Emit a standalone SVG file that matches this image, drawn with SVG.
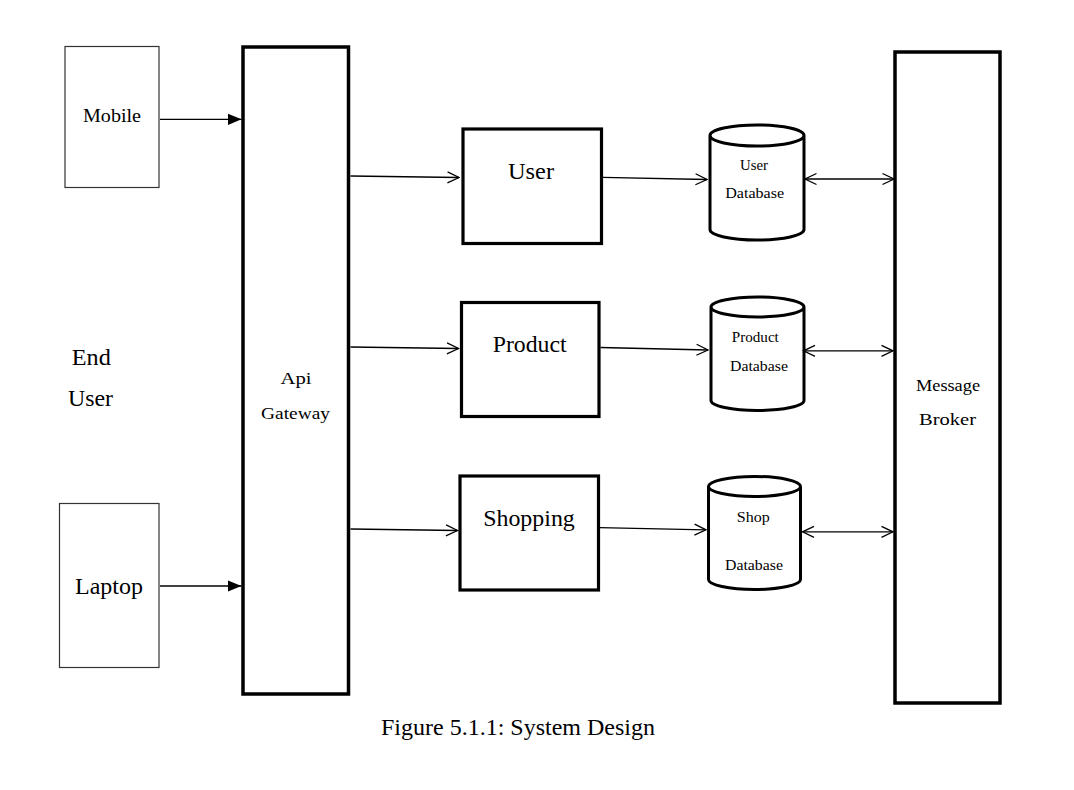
<svg xmlns="http://www.w3.org/2000/svg" width="1074" height="790" viewBox="0 0 1074 790">
  <defs>
    <marker id="tri" markerUnits="userSpaceOnUse" markerWidth="14" markerHeight="12" viewBox="0 0 12 10" refX="12" refY="5" orient="auto">
      <path d="M0,0 L12,5 L0,10 Z" fill="#000"/>
    </marker>
    <marker id="chev" markerUnits="userSpaceOnUse" markerWidth="14" markerHeight="14" viewBox="-1 -1 14 14" refX="11.5" refY="6" orient="auto-start-reverse">
      <path d="M0,0.5 L11.5,6 L0,11.5" fill="none" stroke="#000" stroke-width="1.3"/>
    </marker>
  </defs>
  <style>
    text { font-family: "Liberation Serif", "Times New Roman", serif; fill: #000; text-anchor: middle; }
    .thin { fill: #fff; stroke: #333; stroke-width: 1.2; }
    .thick { fill: #fff; stroke: #000; stroke-width: 3.5; }
    .svc { fill: #fff; stroke: #000; stroke-width: 3.2; }
    .db { fill: #fff; stroke: #000; stroke-width: 3; }
    .conn { fill: none; stroke: #000; stroke-width: 1.3; }
    .solid { marker-end: url(#tri); }
    .open { marker-end: url(#chev); }
    .both { marker-start: url(#chev); marker-end: url(#chev); }
    .big { font-size: 23.5px; }
    .mid { font-size: 17px; }
    .small { font-size: 15.5px; }
  </style>
  <rect width="1074" height="790" fill="#fff"/>

  <g id="mobile">
    <rect class="thin" x="65" y="46.5" width="94" height="141"/>
    <text x="112" y="121.5" style="font-size:19px" textLength="58" lengthAdjust="spacingAndGlyphs">Mobile</text>
  </g>
  <g id="laptop">
    <rect class="thin" x="59.5" y="503.5" width="99.5" height="164"/>
    <text x="109" y="594" style="font-size:24px" textLength="68" lengthAdjust="spacingAndGlyphs">Laptop</text>
  </g>
  <g id="end-user">
    <text x="91.3" y="365" style="font-size:23px" textLength="39" lengthAdjust="spacingAndGlyphs">End</text>
    <text x="90.5" y="406" style="font-size:23px" textLength="45" lengthAdjust="spacingAndGlyphs">User</text>
  </g>
  <g id="api-gateway">
    <rect class="thick" x="243" y="47" width="105.5" height="647"/>
    <text class="mid" x="296" y="384" textLength="31" lengthAdjust="spacingAndGlyphs">Api</text>
    <text class="mid" x="295.5" y="419" textLength="69" lengthAdjust="spacingAndGlyphs">Gateway</text>
  </g>
  <g id="user-service">
    <rect class="svc" x="463" y="129" width="138.5" height="114.5"/>
    <text class="big" x="531" y="178.5" textLength="46" lengthAdjust="spacingAndGlyphs">User</text>
  </g>
  <g id="product-service">
    <rect class="svc" x="461.5" y="302.5" width="137.5" height="114"/>
    <text class="big" x="529.7" y="351.7" textLength="74" lengthAdjust="spacingAndGlyphs">Product</text>
  </g>
  <g id="shopping-service">
    <rect class="svc" x="460" y="476" width="138.5" height="114"/>
    <text class="big" x="529" y="526" textLength="91.7" lengthAdjust="spacingAndGlyphs">Shopping</text>
  </g>

  <g id="user-db">
    <path class="db" d="M710,135.5 A47,10.5 0 0 1 804,135.5 A47,10.5 0 0 1 710,135.5 Z M710,135.5 L710,229.5 A47,10.5 0 0 0 804,229.5 L804,135.5"/>
    <text class="small" x="754" y="170" textLength="28" lengthAdjust="spacingAndGlyphs">User</text>
    <text class="small" x="754.7" y="198.3" textLength="59" lengthAdjust="spacingAndGlyphs">Database</text>
  </g>
  <g id="product-db">
    <path class="db" d="M711,307 A46.5,10 0 0 1 804,307 A46.5,10 0 0 1 711,307 Z M711,307 L711,400.5 A46.5,10 0 0 0 804,400.5 L804,307"/>
    <text class="small" x="755.3" y="342" textLength="47" lengthAdjust="spacingAndGlyphs">Product</text>
    <text class="small" x="759" y="371" textLength="58" lengthAdjust="spacingAndGlyphs">Database</text>
  </g>
  <g id="shop-db">
    <path class="db" d="M708.5,486.5 A46,10 0 0 1 800.5,486.5 A46,10 0 0 1 708.5,486.5 Z M708.5,486.5 L708.5,579.5 A46,10 0 0 0 800.5,579.5 L800.5,486.5"/>
    <text class="small" x="753.3" y="522" textLength="33" lengthAdjust="spacingAndGlyphs">Shop</text>
    <text class="small" x="754" y="570" textLength="58" lengthAdjust="spacingAndGlyphs">Database</text>
  </g>

  <g id="message-broker">
    <rect class="thick" x="895" y="52" width="105" height="651"/>
    <text class="mid" x="948" y="391" textLength="64" lengthAdjust="spacingAndGlyphs">Message</text>
    <text class="mid" x="947.5" y="425" textLength="57" lengthAdjust="spacingAndGlyphs">Broker</text>
  </g>

  <g id="connectors">
    <line class="conn solid" x1="160" y1="119.3" x2="241.5" y2="119.3"/>
    <line class="conn solid" x1="160" y1="586" x2="241.5" y2="586"/>
    <line class="conn open" x1="350.5" y1="176" x2="459" y2="177.5"/>
    <line class="conn open" x1="350.5" y1="347" x2="458.5" y2="348.5"/>
    <line class="conn open" x1="350.5" y1="529" x2="457.5" y2="530.5"/>
    <line class="conn open" x1="602.5" y1="177.3" x2="707" y2="179.5"/>
    <line class="conn open" x1="600.5" y1="347.5" x2="708" y2="350"/>
    <line class="conn open" x1="599.5" y1="527.7" x2="706" y2="529.8"/>
    <line class="conn both" x1="805" y1="179" x2="894" y2="179"/>
    <line class="conn both" x1="803.5" y1="350.8" x2="893" y2="350.8"/>
    <line class="conn both" x1="802.5" y1="531.8" x2="893" y2="531.8"/>
  </g>

  <g id="caption">
    <text x="518" y="734.5" style="font-size:24px">Figure 5.1.1: System Design</text>
  </g>
</svg>
